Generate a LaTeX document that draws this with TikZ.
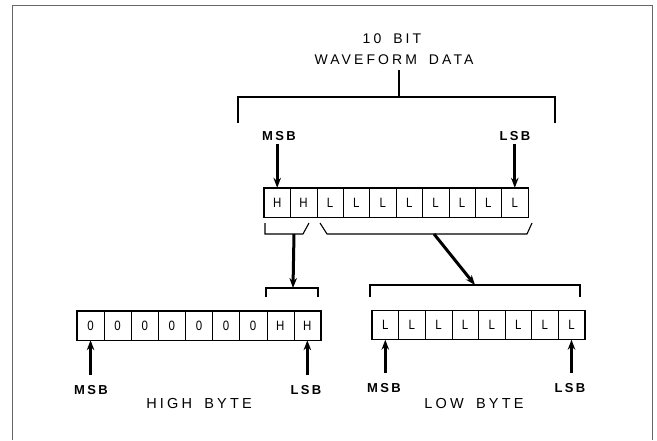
\documentclass[tikz,border=0pt]{standalone}
\usepackage{fontspec}
\setmainfont{Liberation Sans}
\usetikzlibrary{arrows.meta}
\newfontfamily\lblfont[LetterSpace=22]{Liberation Sans}
\newfontfamily\bitfont[LetterSpace=18]{Liberation Sans}
\newfontfamily\cellfont[FakeStretch=0.85]{Liberation Sans}
\newcommand\wgap{\kern5pt\ }
\begin{document}
\begin{tikzpicture}[x=1pt,y=-1pt,
  lbl/.style={font=\lblfont\fontsize{14}{16}\selectfont, inner sep=0},
  bitlbl/.style={font=\bitfont\bfseries\fontsize{13}{15}\selectfont, inner sep=0},
  cell/.style={draw, line width=0.4pt, minimum height=29pt, inner sep=0, font=\cellfont\fontsize{13.5}{15}\selectfont},
  reg/.style={line width=1.4pt},
  brk/.style={line width=1.1pt},
  bigarrow/.style={line width=3pt, -{Stealth[length=10pt,width=7.5pt]}},
  framel/.style={line width=0.6pt, black!60}
]
\useasboundingbox (0,0) rectangle (657,440);
\draw[framel] (12,440) -- (12,5) -- (652,5) -- (652,440);

% top title
\node[lbl] (t10) at (392,39) {10\wgap BIT};
\node[lbl] (twf) at (394,60) {WAVEFORM\wgap DATA};
\coordinate (bt) at (399,97);
\draw[brk] ([yshift=-5pt]twf.south -| bt) -- (bt);
\draw[brk] (238,123) -- (238,97) -- (555,97) -- (555,123);

% top register
\foreach \i/\t in {1/H,2/H,3/L,4/L,5/L,6/L,7/L,8/L,9/L,10/L}
  \node[cell, minimum width=26.4pt] (t\i) at ({264+26.4*(\i-0.5)},202.5) {\t};
\draw[reg] (t1.north west) rectangle (t10.south east);

\node[bitlbl] (tmsb) at (279,136) {MSB};
\node[bitlbl] (tlsb) at (515,136) {LSB};
\draw[bigarrow] (t1.north |- tmsb.south) ++(0,3) -- (t1.north);
\draw[bigarrow] (t10.north |- tlsb.south) ++(0,3) -- (t10.north);

% brackets under top register
\draw[brk] (265,223) -- (265,234) -- (303,234) -- (309,223);
\draw[brk] (320,223) -- (327,234) -- (527,234) -- (532,223);
\coordinate (hsrc) at (294,234);
\coordinate (lsrc) at (434,234);

% high byte register
\foreach \i/\t in {1/0,2/0,3/0,4/0,5/0,6/0,7/0,8/H,9/H}
  \node[cell, minimum width=27.1pt] (h\i) at ({77+27.1*(\i-0.5)},325.5) {\t};
\draw[reg] (h1.north west) rectangle (h9.south east);
\draw[brk] (266,297) -- (266,288) -- (318,288) -- (318,297);
\coordinate (hdst) at (293,288);
\draw[bigarrow] (hsrc) -- (hdst);

% low byte register
\foreach \i in {1,...,8}
  \node[cell, minimum width=26.6pt] (l\i) at ({372+26.6*(\i-0.5)},325) {L};
\draw[reg] (l1.north west) rectangle (l8.south east);
\draw[brk] (370,297) -- (370,285) -- (580,285) -- (580,297);
\coordinate (ldst) at (475,285);
\draw[bigarrow] (lsrc) -- (ldst);

% bottom labels and arrows
\node[bitlbl] (hmsb) at (91,390) {MSB};
\node[bitlbl] (hlsb) at (306,390) {LSB};
\node[bitlbl] (lmsb) at (384,388) {MSB};
\node[bitlbl] (llsb) at (570,388) {LSB};
\draw[bigarrow] (h1.south |- hmsb.north) ++(0,-10) -- (h1.south);
\draw[bigarrow] (h9.south |- hlsb.north) ++(0,-10) -- (h9.south);
\draw[bigarrow] (l1.south |- lmsb.north) ++(0,-10) -- (l1.south);
\draw[bigarrow] (l8.south |- llsb.north) ++(0,-10) -- (l8.south);

\node[lbl, font=\lblfont\fontsize{14.5}{16}\selectfont] (hb) at (199,404) {HIGH\wgap BYTE};
\node[lbl, font=\lblfont\fontsize{14.5}{16}\selectfont] (lb) at (474,404) {LOW\wgap BYTE};
\end{tikzpicture}
\end{document}
